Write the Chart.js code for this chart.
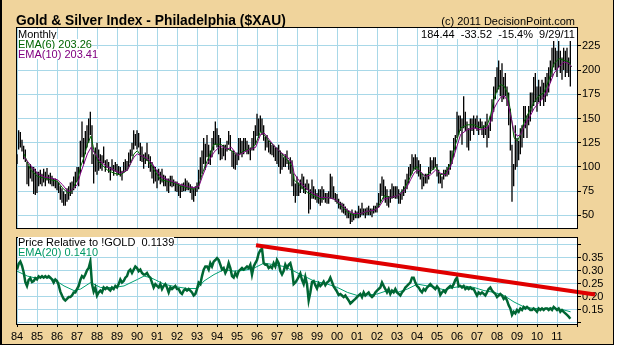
<!DOCTYPE html>
<html>
<head>
<meta charset="utf-8">
<script src="https://cdn.jsdelivr.net/npm/chart.js@4.4.1/dist/chart.umd.min.js"></script>
<style>
  body { margin: 0; background: #fff; }
  #wrap { position: relative; width: 618px; height: 350px; overflow: hidden; font-family: "Liberation Sans", Arial, sans-serif; }
  #frame { position: absolute; left: 0; top: 0; width: 611px; height: 344px; background: #F0D49C; border-left: 2px solid #000; border-right: 1px solid #000; border-bottom: 1px solid #000; }
  canvas { position: absolute; left: 0; }
  .t { position: absolute; white-space: pre; font-size: 11px; line-height: 10px; }
  .w { background: #fff; }
</style>
</head>
<body>
<div id="wrap">
  <div id="frame"></div>
  <canvas id="top" width="618" height="236" style="top:0"></canvas>
  <canvas id="bot" width="618" height="120" style="top:230px"></canvas>
  <div class="t" style="left:16px;top:14px;font-size:13.8px;line-height:13.5px;font-weight:bold">Gold &amp; Silver Index - Philadelphia ($XAU)</div>
  <div class="t" style="left:300px;width:275px;top:16px;text-align:right;line-height:11px">(c) 2011 DecisionPoint.com</div>
  <div class="t w" style="left:18px;top:29px">Monthly</div>
  <div class="t w" style="left:18px;top:39px;color:#006400">EMA(6) 203.26</div>
  <div class="t w" style="left:18px;top:49px;color:#800080">EMA(10) 203.41</div>
  <div class="t w" style="left:420px;width:155px;top:29px;text-align:right">184.44  -33.52  -15.4%  9/29/11</div>
  <div class="t w" style="left:18px;top:237px">Price Relative to !GOLD  0.1139</div>
  <div class="t w" style="left:18px;top:247px;color:#009966">EMA(20) 0.1410</div>
</div>
<script>
// monthly bars, Jan 1984 .. Sep 2011
const firstYear = 1984;
const priceHigh = [
  113,138,136,128,122,118,105,101,103,100,100,98,
  95,95,97,93,98,95,99,92,94,91,88,88,
  86,84,80,78,75,72,78,80,84,85,90,95,
  100,100,127,147,130,137,143,150,157,143,113,120,
  125,118,113,112,121,107,108,105,100,108,102,105,
  103,101,100,96,105,108,106,115,118,125,138,134,
  138,135,125,121,113,115,125,113,111,105,101,100,
  97,98,95,98,92,91,88,88,91,91,87,85,
  85,83,81,83,84,88,86,84,82,80,78,80,
  84,97,110,117,130,124,133,123,117,130,137,147,
  140,133,130,120,123,123,127,137,133,117,117,113,
  115,130,130,127,130,130,127,123,120,130,137,143,
  155,150,153,150,143,131,133,127,125,123,123,120,
  120,123,117,113,110,113,117,107,110,107,93,83,
  90,84,87,93,90,83,87,83,77,87,80,77,
  73,77,77,80,77,73,73,75,93,90,80,73,
  72,67,64,63,62,59,57,55,53,56,52,55,
  54,60,57,63,57,57,58,60,57,57,60,60,
  63,73,83,90,87,80,77,70,77,83,80,80,
  80,77,73,77,80,87,93,100,103,113,110,113,
  110,107,103,93,90,93,93,100,110,107,110,110,
  103,97,93,90,97,97,100,103,117,117,130,133,
  157,153,153,150,173,157,147,140,150,150,153,150,
  153,147,150,147,143,147,155,143,153,170,183,193,
  203,210,200,207,193,197,183,177,160,123,103,143,
  130,127,140,143,163,163,153,163,177,177,193,197,
  183,190,183,190,187,193,197,203,210,223,230,223,
  220,230,220,213,223,220,223,213,230
];
const priceLow = [
  103,118,120,116,108,105,82,80,88,85,72,71,
  73,80,82,80,84,80,86,83,82,80,80,78,
  76,73,66,63,60,60,64,66,70,72,76,78,
  85,80,93,110,103,113,120,125,133,103,83,95,
  92,96,98,96,104,95,99,94,86,96,91,95,
  91,92,90,86,94,96,96,100,104,111,118,122,
  118,120,106,105,98,103,106,99,95,88,83,85,
  78,86,82,84,80,80,75,73,80,79,80,75,
  74,70,68,74,75,75,76,76,73,66,64,70,
  74,77,87,93,103,97,110,103,102,110,117,123,
  120,113,107,108,111,107,116,123,117,100,98,97,
  102,107,113,110,113,117,113,113,107,117,117,123,
  132,130,136,133,127,117,120,115,113,112,110,106,
  103,100,93,97,100,100,103,97,93,80,70,63,
  70,70,73,77,73,72,76,52,56,67,67,66,
  63,62,60,63,66,63,62,62,68,67,67,64,
  62,57,56,53,52,50,47,47,41,43,45,47,
  47,47,48,50,50,47,50,50,50,48,52,53,
  53,58,63,70,67,63,60,58,63,67,68,67,
  67,62,62,66,70,73,77,83,90,93,96,97,
  93,90,87,77,80,83,83,87,93,97,97,100,
  90,83,83,78,87,90,90,92,97,103,110,117,
  130,133,137,123,140,137,120,117,127,137,133,140,
  137,133,140,133,130,133,120,130,137,147,157,170,
  177,180,173,167,170,173,163,143,117,64,80,97,
  100,107,113,120,130,140,130,143,147,157,163,167,
  157,167,163,170,163,167,173,177,187,193,203,200,
  193,203,197,190,200,193,197,193,183
];
// EMA lines of the price panel
const emaYears = [
  1984.35,1984.68,1985.02,1985.35,1985.68,1986.02,1986.27,1986.52,1986.68,1986.85,
  1987.02,1987.18,1987.35,1987.52,1987.70,1987.85,1988.02,1988.18,1988.52,1988.85,
  1989.18,1989.52,1989.68,1989.85,1990.02,1990.18,1990.52,1990.77,
  1990.85,1991.18,1991.52,1991.85,1992.18,1992.52,1992.85,1993.10,1993.27,1993.52,
  1993.85,1994.18,1994.52,1994.72,1995.02,1995.35,1995.68,1995.93,1996.18,1996.35,
  1996.60,1996.85,1997.18,1997.52,1997.77,
  1997.85,1998.18,1998.52,1998.85,1999.18,1999.52,1999.85,2000.18,2000.52,2000.85,
  2001.18,2001.52,2001.85,2002.10,2002.35,2002.68,2003.02,2003.35,2003.52,2003.68,
  2003.85,2004.02,2004.18,2004.43,2004.68,2004.93,
  2005.18,2005.43,2005.68,2005.93,2006.18,2006.52,2006.85,2007.18,2007.52,2007.68,
  2007.85,2008.02,2008.18,2008.35,2008.52,2008.68,2008.85,2009.02,2009.18,2009.35,
  2009.60,2009.85,2010.10,2010.35,2010.60,2010.85,2011.10,2011.35,2011.60,2011.72
];
const ema6 = [
  113.5,96.8,90.2,88.5,86.8,85.2,78.5,73.5,73.5,80.2,
  86.8,100.2,110.2,123.5,131.8,116.8,106.8,103.5,96.8,93.5,
  91.8,96.8,103.5,113.5,116.8,111.8,106.8,100.2,
  96.8,86.8,85.2,83.5,80.2,78.5,76.8,81.8,93.5,106.8,
  123.5,123.5,118.5,116.8,111.8,116.8,118.5,123.5,136.8,133.5,
  126.8,121.8,115.2,106.8,100.2,
  86.8,80.2,73.5,70.2,66.8,68.5,66.8,60.2,53.5,50.2,
  51.8,53.5,55.2,60.2,70.2,68.5,70.2,76.8,83.5,90.2,
  98.5,100.2,93.5,90.2,95.2,100.2,
  91.8,93.5,103.5,123.5,140.2,143.5,143.5,140.2,143.5,153.5,
  170.2,180.2,185.2,183.5,176.8,156.8,130.2,126.8,133.5,146.8,
  156.8,166.8,173.5,176.8,190.2,206.8,211.8,210.2,208.5,203.3
];
const ema10 = [
  110.2,101.8,93.5,89.5,88.5,86.8,81.8,75.2,75.2,78.5,
  81.8,93.5,103.5,113.5,120.2,115.2,110.2,105.2,100.2,96.8,
  93.5,96.8,103.5,110.2,113.5,111.8,108.5,103.5,
  100.2,90.2,86.8,84.2,81.8,79.5,78.5,80.2,90.2,103.5,
  115.2,121.8,118.5,120.2,111.8,115.2,118.5,120.2,133.5,135.2,
  128.5,121.8,115.2,110.2,103.5,
  93.5,83.5,76.8,71.8,68.5,68.5,66.8,61.8,55.2,51.8,
  51.8,54.2,55.2,58.5,66.8,68.5,70.2,75.2,80.2,86.8,
  93.5,96.8,95.2,90.2,91.8,96.8,
  93.5,91.8,100.2,116.8,133.5,138.5,140.2,138.5,140.2,146.8,
  160.2,166.8,171.8,173.5,168.5,153.5,136.8,131.8,133.5,141.8,
  150.2,160.2,166.8,171.8,183.5,196.8,203.5,208.5,206.8,203.4
];
// price relative to gold, monthly
const relative = [
  0.304,0.326,0.335,0.319,0.294,0.256,0.241,0.264,0.271,0.256,0.260,0.271,
  0.266,0.278,0.273,0.279,0.273,0.279,0.273,0.279,0.273,0.266,0.254,0.266,
  0.260,0.244,0.219,0.204,0.191,0.185,0.191,0.198,0.198,0.204,0.216,0.216,
  0.229,0.241,0.264,0.279,0.273,0.285,0.301,0.310,0.335,0.248,0.219,0.235,
  0.204,0.216,0.223,0.216,0.235,0.229,0.235,0.229,0.223,0.235,0.229,0.241,
  0.235,0.248,0.266,0.254,0.260,0.273,0.279,0.298,0.304,0.291,0.304,0.316,
  0.310,0.298,0.304,0.291,0.285,0.285,0.291,0.279,0.273,0.254,0.235,0.248,
  0.241,0.235,0.248,0.229,0.241,0.248,0.235,0.216,0.235,0.229,0.235,0.241,
  0.229,0.229,0.216,0.210,0.223,0.229,0.223,0.229,0.223,0.216,0.204,0.210,
  0.229,0.254,0.248,0.279,0.304,0.316,0.316,0.304,0.329,0.316,0.335,0.341,
  0.348,0.341,0.323,0.304,0.310,0.291,0.304,0.329,0.310,0.279,0.273,0.291,
  0.279,0.298,0.304,0.310,0.304,0.310,0.316,0.310,0.323,0.285,0.316,0.329,
  0.341,0.366,0.379,0.385,0.329,0.323,0.323,0.310,0.316,0.310,0.329,0.316,
  0.341,0.329,0.298,0.285,0.298,0.323,0.310,0.323,0.329,0.304,0.248,0.254,
  0.264,0.276,0.289,0.264,0.248,0.276,0.248,0.185,0.216,0.256,0.260,0.244,
  0.231,0.251,0.241,0.248,0.258,0.244,0.254,0.259,0.273,0.256,0.239,0.229,
  0.219,0.206,0.210,0.204,0.198,0.204,0.194,0.185,0.173,0.179,0.185,0.191,
  0.198,0.204,0.210,0.198,0.216,0.204,0.210,0.216,0.204,0.198,0.204,0.216,
  0.223,0.229,0.235,0.254,0.241,0.229,0.216,0.229,0.210,0.223,0.216,0.229,
  0.216,0.210,0.204,0.216,0.223,0.235,0.241,0.248,0.254,0.273,0.273,0.254,
  0.241,0.235,0.223,0.216,0.229,0.223,0.235,0.241,0.248,0.241,0.235,0.229,
  0.239,0.231,0.206,0.216,0.223,0.216,0.229,0.235,0.241,0.235,0.248,0.264,
  0.273,0.239,0.241,0.235,0.241,0.229,0.235,0.229,0.235,0.229,0.229,0.216,
  0.204,0.216,0.210,0.216,0.210,0.204,0.216,0.229,0.235,0.223,0.216,0.210,
  0.198,0.204,0.210,0.204,0.191,0.198,0.185,0.166,0.154,0.129,0.141,0.135,
  0.148,0.141,0.154,0.148,0.160,0.154,0.160,0.154,0.148,0.148,0.154,0.148,
  0.141,0.154,0.148,0.154,0.148,0.154,0.154,0.148,0.154,0.148,0.160,0.154,
  0.148,0.154,0.141,0.148,0.141,0.135,0.129,0.123,0.114
];
const relEmaYears = [
  1984.00,1984.52,1984.85,1985.52,1985.85,1986.35,1986.85,1987.18,1987.68,1988.18,
  1988.85,1989.35,1990.02,1990.35,1990.68,1990.93,1991.35,1991.85,1992.52,1993.02,
  1993.35,1993.85,1994.35,1994.85,1995.35,1995.85,1996.35,1996.85,1997.35,1997.85,
  1998.35,1998.85,1999.52,2000.02,2000.52,2001.02,2001.52,2002.02,2002.52,2003.02,
  2003.52,2004.02,2004.52,2004.93,2005.35,2005.85,2006.35,2006.85,2007.35,2007.85,
  2008.35,2008.85,2009.35,2009.85,2010.35,2010.85,2011.35,2011.68
];
const relEma = [
  0.298,0.279,0.273,0.273,0.266,0.241,0.223,0.229,0.254,0.235,
  0.235,0.241,0.266,0.279,0.273,0.264,0.248,0.239,0.231,0.231,
  0.260,0.285,0.304,0.298,0.301,0.310,0.329,0.323,0.316,0.298,
  0.279,0.260,0.248,0.235,0.216,0.204,0.206,0.210,0.223,0.216,
  0.229,0.248,0.241,0.235,0.226,0.235,0.241,0.235,0.223,0.216,
  0.204,0.179,0.160,0.154,0.154,0.156,0.148,0.141
];
// resistance line drawn on the relative panel
const trendYears = [1995.95, 2012.9];
const trendVals = [0.398, 0.208];

const yearTicksFrom = 1984, yearTicksTo = 2012;
const priceTicks = [50, 225];
const relTicks = [0.15, 0.35];

const GRID = 'rgb(168,216,232)';
const FONT = { family: '"Liberation Sans", Arial, sans-serif', size: 11 };

const plotFrame = {
  id: 'plotFrame',
  beforeDraw(chart) {
    const a = chart.chartArea, c = chart.ctx;
    c.save();
    c.fillStyle = '#fff';
    c.fillRect(a.left, a.top, a.right - a.left, a.bottom - a.top);
    c.restore();
  },
  afterDatasetsDraw(chart) {
    const a = chart.chartArea, c = chart.ctx;
    c.save();
    c.strokeStyle = '#000';
    c.lineWidth = 1;
    c.strokeRect(Math.round(a.left) - 0.5, Math.round(a.top) - 0.5,
      Math.round(a.right - a.left) + 1, Math.round(a.bottom - a.top) + 1);
    c.restore();
  }
};

function xAxis(showLabels, h) {
  return {
    type: 'linear', min: yearTicksFrom, max: yearTicksTo, offset: false,
    afterFit: s => { s.height = h; },
    ticks: {
      display: showLabels, stepSize: 1, autoSkip: false, maxRotation: 0, padding: 3,
      color: '#000', font: FONT,
      callback: v => v >= yearTicksTo ? '' : String(v % 100).padStart(2, '0')
    },
    grid: { color: GRID, offset: false, drawTicks: showLabels, tickLength: 3, tickColor: '#000' },
    border: { display: false }
  };
}

function yTicks(step, show) {
  return { stepSize: step, includeBounds: false, autoSkip: false, color: '#000', font: FONT, padding: 1, callback: show };
}

const points = (xs, ys) => xs.map((x, i) => ({ x: x, y: ys[i] }));
const monthX = i => firstYear + i / 12;

new Chart(document.getElementById('top'), {
  type: 'bar',
  data: {
    datasets: [
      { type: 'line', data: points(emaYears, ema10), borderColor: '#800080', borderWidth: 1, pointRadius: 0, tension: 0 },
      { type: 'line', data: points(emaYears, ema6), borderColor: '#006400', borderWidth: 1, pointRadius: 0, tension: 0 },
      { type: 'bar', data: priceHigh.map((h, i) => ({ x: monthX(i), y: [priceLow[i], h] })),
        backgroundColor: '#000', barThickness: 1.3, inflateAmount: 0, grouped: false }
    ]
  },
  options: {
    responsive: false, animation: false, events: [],
    layout: { padding: { left: 17, top: 28, right: 0, bottom: 1 }, autoPadding: false },
    plugins: { legend: { display: false }, tooltip: { enabled: false } },
    scales: {
      x: xAxis(false, 0),
      y: {
        position: 'right', min: 36.5, max: 243.5,
        afterFit: s => { s.width = 41; },
        ticks: yTicks(25, v => (v >= priceTicks[0] && v <= priceTicks[1]) ? String(v) : ''),
        grid: { color: GRID, tickColor: '#000', tickLength: 4 },
        border: { display: false }
      }
    }
  },
  plugins: [plotFrame]
});

new Chart(document.getElementById('bot'), {
  type: 'line',
  data: {
    datasets: [
      { data: points(trendYears, trendVals), borderColor: '#e00000', borderWidth: 4, pointRadius: 0, clip: false },
      { data: relative.map((v, i) => ({ x: monthX(i), y: v })), borderColor: '#006633', borderWidth: 2.5, pointRadius: 0, tension: 0 },
      { data: points(relEmaYears, relEma), borderColor: '#00a070', borderWidth: 1, pointRadius: 0, tension: 0 }
    ]
  },
  options: {
    responsive: false, animation: false, events: [],
    layout: { padding: { left: 17, top: 5, right: 0, bottom: 0 }, autoPadding: false },
    plugins: { legend: { display: false }, tooltip: { enabled: false } },
    scales: {
      x: xAxis(true, 26),
      y: {
        position: 'right', min: 0.094, max: 0.4276,
        afterFit: s => { s.width = 41; },
        ticks: yTicks(0.05, v => (v > relTicks[0] - 0.01 && v < relTicks[1] + 0.01) ? v.toFixed(2) : ''),
        grid: { color: GRID, tickColor: '#000', tickLength: 4 },
        border: { display: false }
      }
    }
  },
  plugins: [plotFrame]
});
</script>
</body>
</html>
